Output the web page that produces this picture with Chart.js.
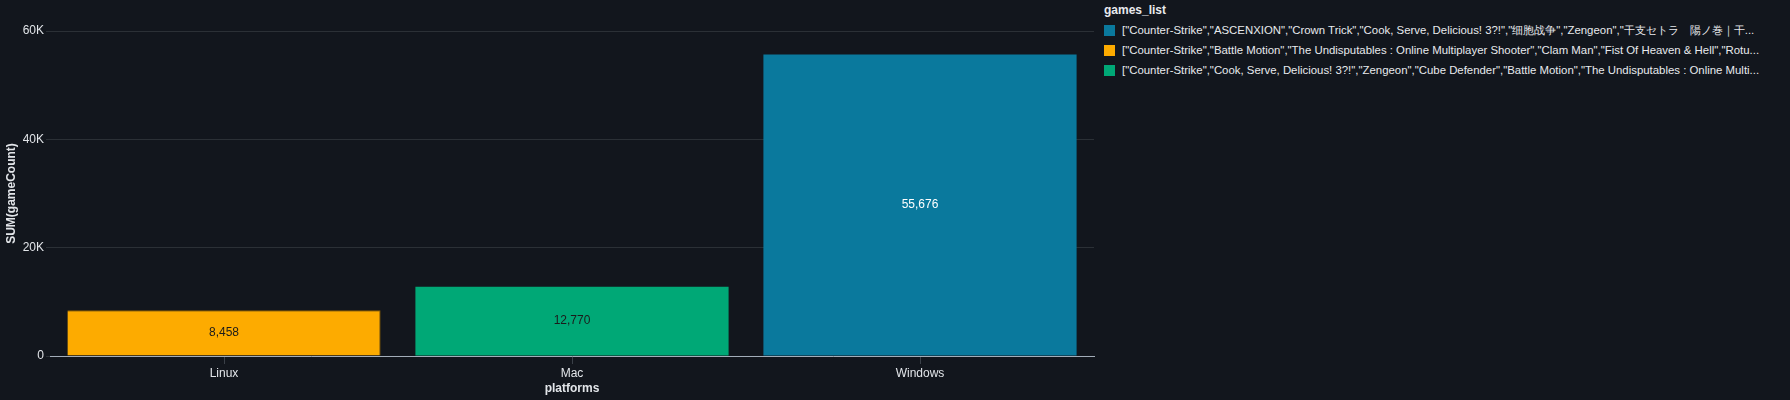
<!DOCTYPE html>
<html>
<head>
<meta charset="utf-8">
<script src="https://cdn.jsdelivr.net/npm/chart.js@4/dist/chart.umd.min.js"></script>
<style>
  html, body { margin:0; padding:0; background:#12161d; }
  body { width:1790px; height:400px; position:relative; overflow:hidden;
         font-family:"Liberation Sans", Arial, sans-serif; }
  #wrap { position:absolute; left:0; top:0; width:1100px; height:400px; }
  #legend { position:absolute; left:1104px; top:0; color:#e8eaed; font-size:11.4px; }
  #legend .title { font-weight:bold; font-size:12px; height:20px; line-height:20px; }
  #legend .row { height:20px; display:flex; align-items:center; white-space:nowrap; }
  #legend .sw { width:11px; height:11px; margin-right:7px; flex:none; }
</style>
</head>
<body>
<div id="wrap"><canvas id="chart" width="1100" height="400"></canvas></div>
<div id="legend"></div>
<script>
/* ────────────────────────────────────────
   DATA
──────────────────────────────────────── */
const platforms  = ['Linux', 'Mac', 'Windows'];
const gameCount  = [8458, 12770, 55676];
const barColors  = ['#fdab00', '#00a876', '#0a799d'];
const labelColor = ['#1b1b1b', '#1b1b1b', '#ffffff'];
const yTicks     = [0, 20000, 40000, 60000];

// legend order as shown: Windows, Linux, Mac
const legendTitle  = 'games_list';
const legendColors = ['#0a799d', '#fdab00', '#00a876'];
const legendLabels = [
  '["Counter-Strike","ASCENXION","Crown Trick","Cook, Serve, Delicious! 3?!","细胞战争","Zengeon","干支セトラ　陽ノ巻｜干...',
  '["Counter-Strike","Battle Motion","The Undisputables : Online Multiplayer Shooter","Clam Man","Fist Of Heaven & Hell","Rotu...',
  '["Counter-Strike","Cook, Serve, Delicious! 3?!","Zengeon","Cube Defender","Battle Motion","The Undisputables : Online Multi...',
];

/* ────────────────────────────────────────
   LEGEND (html)
──────────────────────────────────────── */
const lg = document.getElementById('legend');
lg.innerHTML = `<div class="title">${legendTitle}</div>` +
  legendLabels.map((t, i) =>
    `<div class="row"><span class="sw" style="background:${legendColors[i]}"></span><span></span></div>`
  ).join('');
lg.querySelectorAll('.row span:last-child').forEach((s, i) => { s.textContent = legendLabels[i]; });

/* ────────────────────────────────────────
   CHART
──────────────────────────────────────── */
const textCol = '#e2e5e9';
const gridCol = '#2b3036';
const font    = { family:'"Liberation Sans", Arial, sans-serif', size:12 };

const valueLabels = {
  id: 'valueLabels',
  afterDatasetsDraw(chart) {
    const ctx  = chart.ctx;
    const meta = chart.getDatasetMeta(0);
    ctx.save();
    ctx.font = `12px ${font.family}`;
    ctx.textAlign = 'center';
    ctx.textBaseline = 'middle';
    meta.data.forEach((bar, i) => {
      const { x, y, base } = bar.getProps(['x', 'y', 'base'], true);
      ctx.fillStyle = labelColor[i];
      ctx.fillText(gameCount[i].toLocaleString('en-US'), x, (y + base) / 2);
    });
    ctx.restore();
  },
};

new Chart(document.getElementById('chart'), {
  type: 'bar',
  data: {
    labels: platforms,
    datasets: [{
      data: gameCount,
      backgroundColor: barColors,
      borderColor: ['#8a5c00', '#00a876', '#0a799d'],
      borderWidth: [{ top:1, right:1 }, 0, 0],
      borderSkipped: 'bottom',
      categoryPercentage: 1,
      barPercentage: 0.9,
    }],
  },
  options: {
    responsive: false,
    animation: false,
    layout: { padding: { top:31, right:6, left:0, bottom:0 } },
    plugins: { legend: { display:false }, tooltip: { enabled:false } },
    scales: {
      x: {
        grid: { display:true, drawOnChartArea:false, offset:false, color:'#3a4048', tickLength:8 },
        border: { display:true, color:'#a3adb9', width:1 },
        ticks: { color:textCol, font, padding:2 },
        title: { display:true, text:'platforms', color:textCol,
                 font:{ ...font, weight:'bold' }, padding:{ top:2, bottom:4 } },
        afterFit: s => { s.height = 44; },
      },
      y: {
        min: 0, max: 60000,
        afterBuildTicks: s => { s.ticks = yTicks.map(v => ({ value:v })); },
        grid: { color:gridCol, tickLength:4 },
        border: { display:false },
        ticks: { color:textCol, font, padding:2,
                 callback: v => v === 0 ? '0' : (v / 1000) + 'K' },
        title: { display:true, text:'SUM(gameCount)', color:textCol,
                 font:{ ...font, weight:'bold' }, padding:{ top:4, bottom:4 } },
        afterFit: s => { s.width = 50; },
      },
    },
  },
  plugins: [valueLabels],
});
</script>
</body>
</html>
